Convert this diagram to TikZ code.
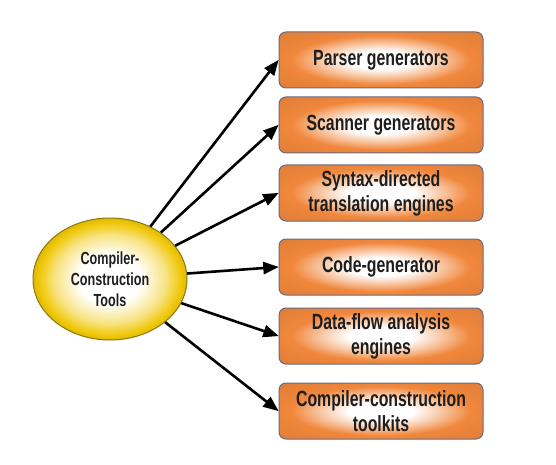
\documentclass[tikz,border=0pt]{standalone}
\usepackage{fontspec}
\newfontfamily\narrowfont[FakeStretch=0.72]{Liberation Sans Bold}
\usetikzlibrary{shapes.geometric}
\usetikzlibrary{arrows}
\definecolor{toolorange}{RGB}{240,135,60}
\definecolor{toolyellow}{RGB}{240,200,10}
\definecolor{toolframe}{RGB}{105,105,130}
\definecolor{tooltext}{RGB}{30,30,30}
\pgfdeclareradialshading{boxglow}{\pgfpoint{0bp}{0bp}}{%
color(0bp)=(white); color(8bp)=(white); color(16bp)=(toolorange!55);
color(22bp)=(toolorange); color(50bp)=(toolorange!85!black)}
\pgfdeclareradialshading{hubglow}{\pgfpoint{0bp}{0bp}}{%
color(0bp)=(white); color(10bp)=(white); color(18bp)=(toolyellow!50);
color(23bp)=(toolyellow); color(27bp)=(toolyellow!85!black);
color(50bp)=(toolyellow!85!black)}
\tikzset{x=1pt, y=-1pt,
hub/.style={ % Sets the properties for the centre ellipse
ellipse, draw=toolyellow!60!black, line width=1pt,
shading=hubglow,
minimum width=154pt, minimum height=122pt,
align=center, text=tooltext,
font=\narrowfont\fontsize{17.5}{21}\selectfont},
toolbox/.style={ % Sets the properties for each tool box
rectangle, rounded corners=7pt, draw=toolframe, line width=1pt,
shading=boxglow,
minimum width=204pt, minimum height=56pt,
align=center, text=tooltext,
font=\narrowfont\fontsize{22}{25}\selectfont},
link/.style={ % Sets the properties for each arrow
draw, -triangle 45, line width=2.6pt}}
\begin{document}
\begin{tikzpicture}
	\useasboundingbox (0,0) rectangle (556,465);
	\node[hub] (cct) at (110,279) {Compiler-\\Construction\\Tools};
	\node[toolbox] (parser) at (381,60) {Parser generators};
	\node[toolbox] (scanner) at (381,125) {Scanner generators};
	\node[toolbox] (syntax) at (381,193) {Syntax-directed\\translation engines};
	\node[toolbox] (codegen) at (381,267) {Code-generator};
	\node[toolbox] (dataflow) at (381,336) {Data-flow analysis\\engines};
	\node[toolbox] (toolkits) at (381,411) {Compiler-construction\\toolkits};
	\draw[link] (cct) -- (parser.west);
	\draw[link] (cct) -- (scanner.west);
	\draw[link] (cct) -- (syntax.west);
	\draw[link] (cct) -- (codegen.west);
	\draw[link] (cct) -- (dataflow.west);
	\draw[link] (cct) -- (toolkits.west);
\end{tikzpicture}
\end{document}
